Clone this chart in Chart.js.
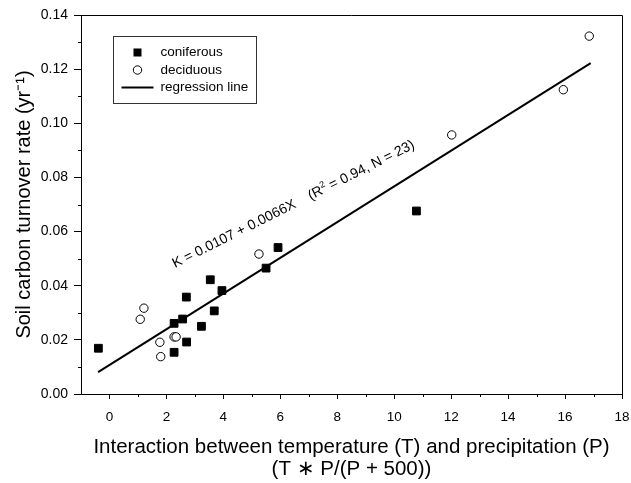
<!DOCTYPE html>
<html>
<head>
<meta charset="utf-8">
<script src="https://cdn.jsdelivr.net/npm/chart.js@4.4.1/dist/chart.umd.min.js"></script>
<style>
  html, body { margin: 0; padding: 0; background: #fff; }
  #wrap { width: 631px; height: 483px; }
</style>
</head>
<body>
<div id="wrap"><canvas id="turnoverChart" width="631" height="483"></canvas></div>
<script>
// coniferous stands (x = T*P/(P+500), y = turnover rate)
const coniferousX = [-0.39, 2.27, 2.27, 2.57, 2.70, 2.71, 3.23, 3.54, 3.68, 3.95, 5.50, 5.92, 10.78];
const coniferousY = [0.0169, 0.0261, 0.0154, 0.0277, 0.0358, 0.0192, 0.0250, 0.0422, 0.0307, 0.0382, 0.0465, 0.0541, 0.0676];
// deciduous stands
const deciduousX = [1.08, 1.21, 1.77, 1.80, 2.27, 2.34, 5.25, 12.02, 15.94, 16.85];
const deciduousY = [0.0276, 0.0317, 0.0191, 0.0138, 0.0211, 0.0211, 0.0517, 0.0957, 0.1124, 0.1322];
// regression line end points
const lineX = [-0.4, 16.9];
const lineY = [0.0081, 0.1222];

const xMajorTicks = [0, 2, 4, 6, 8, 10, 12, 14, 16, 18];
const xMinorTicks = [1, 3, 5, 7, 9, 11, 13, 15, 17];
const yMinorTicks = [0.01, 0.03, 0.05, 0.07, 0.09, 0.11, 0.13];

const FONT = '"Liberation Sans", Arial, sans-serif';
const toPoints = (xs, ys) => xs.map((v, i) => ({ x: v, y: ys[i] }));

const extras = {
    id: 'extras',
    afterDraw(chart) {
        const { ctx, chartArea: a, scales: { x, y } } = chart;
        ctx.save();
        ctx.strokeStyle = '#000';
        ctx.lineWidth = 1;

        // top and right frame
        ctx.beginPath();
        ctx.moveTo(a.left, Math.round(a.top) + 0.5);
        ctx.lineTo(Math.round(a.right) + 0.5, Math.round(a.top) + 0.5);
        ctx.lineTo(Math.round(a.right) + 0.5, a.bottom);
        ctx.stroke();

        // minor ticks
        ctx.beginPath();
        xMinorTicks.forEach(v => {
            const px = Math.round(x.getPixelForValue(v)) + 0.5;
            ctx.moveTo(px, a.bottom);
            ctx.lineTo(px, a.bottom + 3);
        });
        yMinorTicks.forEach(v => {
            const py = Math.round(y.getPixelForValue(v)) + 0.5;
            ctx.moveTo(a.left - 3, py);
            ctx.lineTo(a.left, py);
        });
        ctx.stroke();

        // legend box
        const lx = a.left + 32.5, ly = a.top + 21.5;
        ctx.strokeStyle = '#333';
        ctx.strokeRect(lx, ly, 143, 67);
        ctx.fillStyle = '#000';
        ctx.fillRect(lx + 20, ly + 12, 8, 8);
        ctx.beginPath();
        ctx.arc(lx + 24, ly + 33.5, 4.2, 0, Math.PI * 2);
        ctx.strokeStyle = '#000';
        ctx.stroke();
        ctx.lineWidth = 2;
        ctx.beginPath();
        ctx.moveTo(lx + 8, ly + 51);
        ctx.lineTo(lx + 40, ly + 51);
        ctx.stroke();
        ctx.font = '13.5px ' + FONT;
        ctx.textBaseline = 'middle';
        ctx.textAlign = 'left';
        ctx.fillText('coniferous', lx + 47, ly + 16);
        ctx.fillText('deciduous', lx + 47, ly + 33.5);
        ctx.fillText('regression line', lx + 47, ly + 51);

        // regression equation, written along the line
        const tx = x.getPixelForValue(2.3), ty = y.getPixelForValue(0.0465);
        ctx.translate(tx, ty);
        ctx.rotate(-26.6 * Math.PI / 180);
        ctx.textBaseline = 'alphabetic';
        ctx.font = '14px ' + FONT;
        let cx = 0;
        const part1 = 'K = 0.0107 + 0.0066X    (R';
        ctx.fillText(part1, cx, 0);
        cx += ctx.measureText(part1).width;
        ctx.font = '9px ' + FONT;
        ctx.fillText('2', cx, -6);
        cx += ctx.measureText('2').width;
        ctx.font = '14px ' + FONT;
        ctx.fillText(' = 0.94, N = 23)', cx, 0);
        ctx.restore();
    }
};

const ctx = document.getElementById('turnoverChart').getContext('2d');
new Chart(ctx, {
    type: 'scatter',
    data: {
        datasets: [{
            label: 'coniferous',
            data: toPoints(coniferousX, coniferousY),
            pointStyle: 'rect',
            pointRadius: 5.5,
            backgroundColor: '#000',
            borderColor: '#000',
            borderWidth: 1
        }, {
            label: 'deciduous',
            data: toPoints(deciduousX, deciduousY),
            pointStyle: 'circle',
            pointRadius: 4.2,
            backgroundColor: '#fff',
            borderColor: '#000',
            borderWidth: 1
        }, {
            label: 'regression line',
            data: toPoints(lineX, lineY),
            showLine: true,
            pointRadius: 0,
            borderColor: '#000',
            borderWidth: 2
        }]
    },
    options: {
        responsive: false,
        animation: false,
        layout: { padding: { left: 0, right: 9, top: 15, bottom: 0 } },
        plugins: {
            legend: { display: false },
            tooltip: { enabled: false }
        },
        scales: {
            x: {
                type: 'linear',
                min: -1,
                max: 18,
                afterFit: s => { s.height = 89; s.paddingLeft = 0; s.paddingRight = 0; },
                afterBuildTicks: s => { s.ticks = xMajorTicks.map(v => ({ value: v })); },
                ticks: {
                    color: '#000',
                    padding: 10,
                    maxRotation: 0,
                    font: { family: FONT, size: 13.5 },
                    callback: v => String(v)
                },
                grid: { drawOnChartArea: false, drawTicks: true, tickLength: 5, color: '#000' },
                border: { display: true, color: '#000', width: 1 },
                title: {
                    display: true,
                    text: ['Interaction between temperature (T) and precipitation (P)', '(T \u2217 P/(P + 500))'],
                    color: '#000',
                    font: { family: FONT, size: 20.5, lineHeight: 1.06 },
                    padding: { top: 0, bottom: 3 }
                }
            },
            y: {
                min: 0,
                max: 0.14,
                afterFit: s => { s.width = 81; s.paddingTop = 0; s.paddingBottom = 0; },
                ticks: {
                    stepSize: 0.02,
                    color: '#000',
                    padding: 6,
                    font: { family: FONT, size: 14 },
                    callback: v => Number(v).toFixed(2)
                },
                grid: { drawOnChartArea: false, drawTicks: true, tickLength: 7, color: '#000' },
                border: { display: true, color: '#000', width: 1 },
                title: {
                    display: true,
                    text: 'Soil carbon turnover rate (yr\u207B\u00B9)',
                    color: '#000',
                    font: { family: FONT, size: 20, lineHeight: 1.08 },
                    padding: { top: 14, bottom: 0 }
                }
            }
        }
    },
    plugins: [extras]
});
</script>
</body>
</html>
